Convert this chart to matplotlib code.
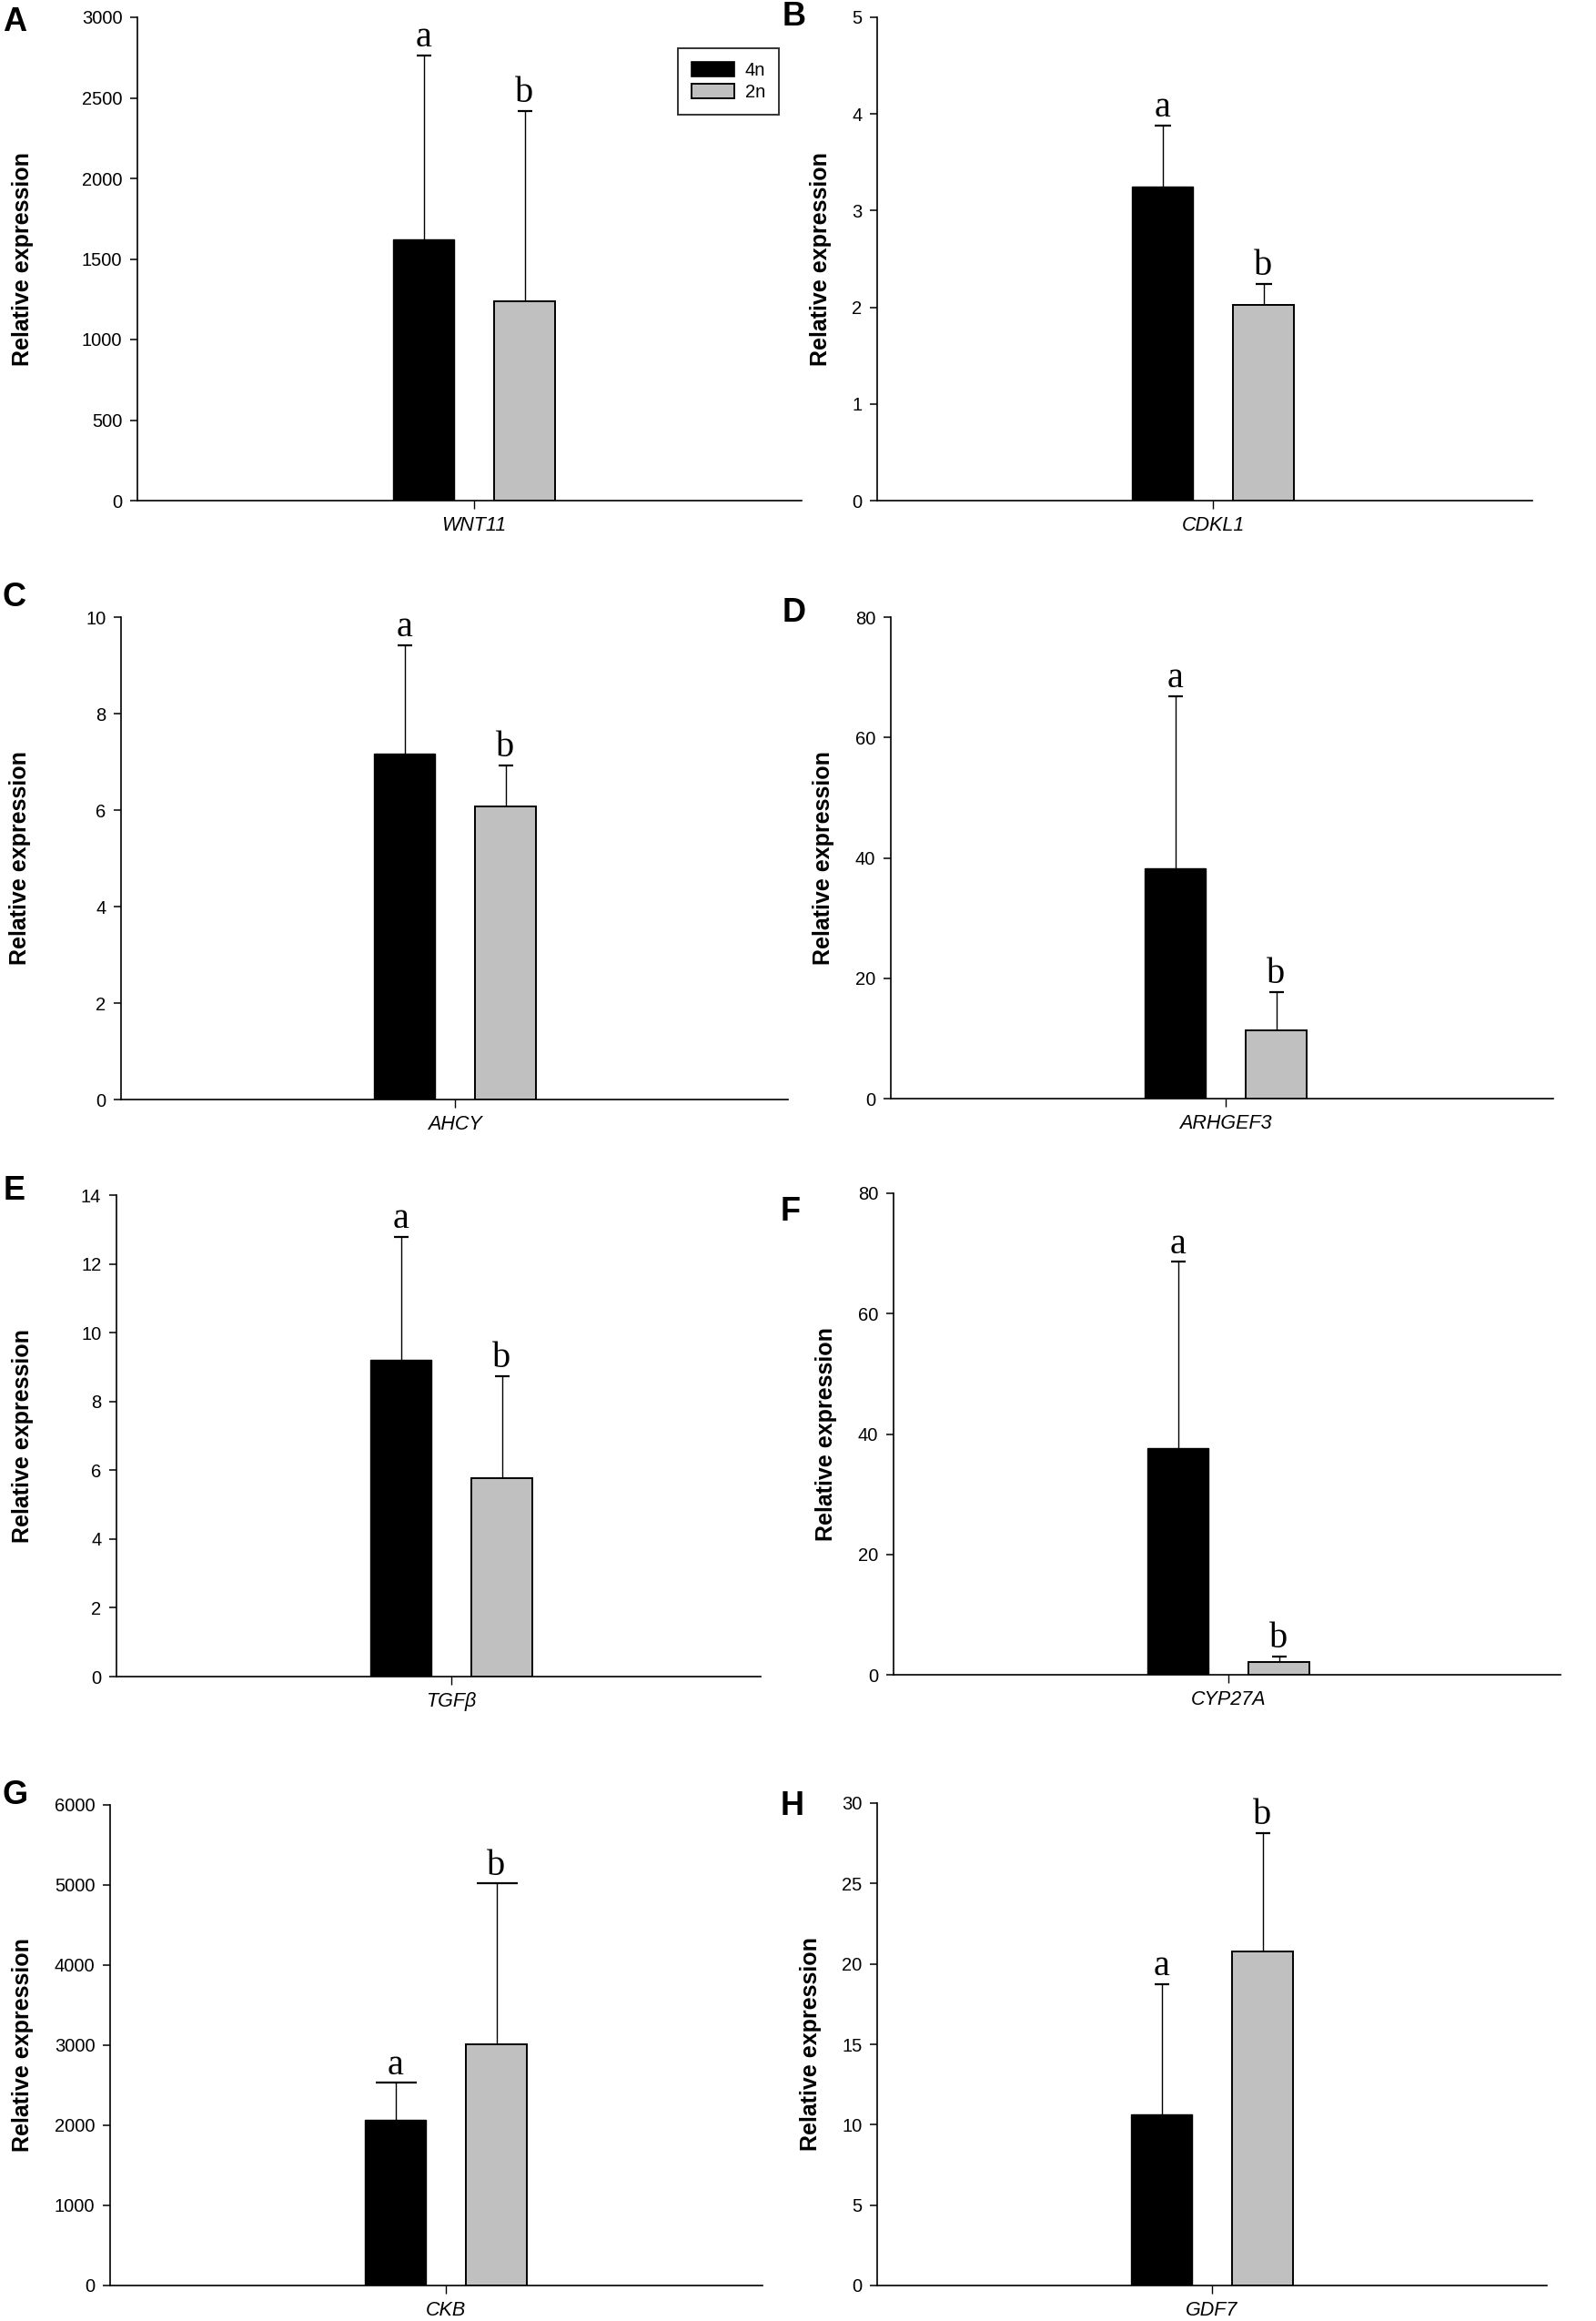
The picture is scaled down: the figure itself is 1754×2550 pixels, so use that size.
import matplotlib
matplotlib.use("Agg")
import matplotlib.pyplot as plt
from matplotlib import font_manager
from matplotlib.patches import Patch

# ---- data ----
panels = ["A", "B", "C", "D", "E", "F", "G", "H"]
genes = ["WNT11", "CDKL1", "AHCY", "ARHGEF3", "TGFβ", "CYP27A", "CKB", "GDF7"]

mean_4n = [1620, 3.25, 7.17, 38.2, 9.22, 37.7, 2067, 10.62]
upper_4n = [2764, 3.88, 9.42, 66.9, 12.78, 68.6, 2530, 18.75]
mean_2n = [1235, 2.02, 6.08, 11.3, 5.78, 2.15, 3011, 20.75]
upper_2n = [2420, 2.24, 6.93, 17.7, 8.74, 3.05, 5020, 28.12]

letter_4n = ["a", "a", "a", "a", "a", "a", "a", "a"]
letter_2n = ["b", "b", "b", "b", "b", "b", "b", "b"]

y_max = [3000, 5, 10, 80, 14, 80, 6000, 30]
y_step = [500, 1, 2, 20, 2, 20, 1000, 5]

groups = ["4n", "2n"]

# ---- layout (pixels on a 1754 x 2550 canvas) ----
W, H = 1754, 2550
# left, right, top, bottom, category tick x
boxes = [
    (151, 881, 19, 550, 521),
    (964, 1684, 19, 550, 1333),
    (133, 866, 678, 1208, 500),
    (979, 1707, 678, 1207, 1347),
    (128, 836, 1313, 1842, 496),
    (982, 1715, 1311, 1840, 1350),
    (121, 838, 1983, 2511, 490),
    (964, 1700, 1981, 2511, 1332),
]
letter_pos = [(3, 14), (860, 8), (3, 646), (860, 663),
              (4, 1298), (858, 1321), (3, 1962), (858, 1974)]
ylabel_x = [25, 902, 22, 905, 25, 908, 25, 891]
cap_sizes = [5.8, 6.5, 5.8, 5.8, 5.8, 5.8, 16.2, 5.8]

PX_PER_UNIT = 185.0
OFFSET = 0.30
BAR_W = 0.362
GRAY = "#c0c0c0"

names = {f.name for f in font_manager.fontManager.ttflist}
SANS = "Liberation Sans" if "Liberation Sans" in names else "DejaVu Sans"
SERIF = "Liberation Serif" if "Liberation Serif" in names else "DejaVu Serif"
if "Liberation Sans Narrow" in names:
    XFONT, XSIZE = "Liberation Sans Narrow", 18
else:
    XFONT, XSIZE = SANS, 15.5

plt.rcParams["font.family"] = [SANS, "DejaVu Sans"]

fig = plt.figure(figsize=(W / 100, H / 100), dpi=100)

for i in range(len(panels)):
    left, right, top, bottom, tick = boxes[i]
    ax = fig.add_axes([left / W, 1 - bottom / H, (right - left) / W, (bottom - top) / H])

    xs = [-OFFSET, OFFSET]
    means = [mean_4n[i], mean_2n[i]]
    uppers = [upper_4n[i], upper_2n[i]]
    ax.bar(xs[0], means[0], width=BAR_W, color="black", edgecolor="black",
           linewidth=1.0, zorder=2)
    ax.bar(xs[1], means[1], width=BAR_W, color=GRAY, edgecolor="black",
           linewidth=1.4, zorder=2)
    for x, m, u in zip(xs, means, uppers):
        eb = ax.errorbar(x, m, yerr=[[0], [u - m]], fmt="none", ecolor="black",
                         elinewidth=1.0, capsize=cap_sizes[i], capthick=1.6, zorder=1)
        # keep only the upper cap
        for cap in eb[1]:
            if abs(cap.get_ydata()[0] - m) < 1e-9:
                cap.set_visible(False)
    for x, u, lab in zip(xs, uppers, [letter_4n[i], letter_2n[i]]):
        ax.annotate(lab, (x, u), xytext=(0, 7), textcoords="offset points",
                    ha="center", va="baseline", fontsize=29, family=SERIF)

    ax.set_xlim((left - tick) / PX_PER_UNIT, (right - tick) / PX_PER_UNIT)
    ax.set_ylim(0, y_max[i])
    ax.set_yticks([k * y_step[i] for k in range(int(round(y_max[i] / y_step[i])) + 1)])
    ax.set_xticks([0])
    ax.set_xticklabels([genes[i]], style="italic", family=XFONT, fontsize=XSIZE)

    for s in ["top", "right"]:
        ax.spines[s].set_visible(False)
    for s in ["left", "bottom"]:
        ax.spines[s].set_linewidth(1.2)
    ax.tick_params(axis="y", direction="out", length=6, width=1.1,
                   labelsize=14.5, pad=6)
    ax.tick_params(axis="x", direction="out", length=6.5, width=1.0, pad=6)

    fig.text(ylabel_x[i] / W, 1 - (top + bottom) / 2 / H, "Relative expression",
             rotation=90, ha="center", va="center", fontsize=18, fontweight="bold")

    lx, ly = letter_pos[i]
    fig.text(lx / W, 1 - (ly - 7) / H, panels[i], ha="left", va="top",
             fontsize=26, fontweight="bold")

    if i == 0:
        handles = [Patch(facecolor="black", edgecolor="black", linewidth=1.2),
                   Patch(facecolor=GRAY, edgecolor="black", linewidth=1.4)]
        leg = ax.legend(handles, groups, loc="upper left",
                        bbox_to_anchor=((745 - left) / (right - left),
                                        (bottom - 53) / (bottom - top)),
                        fontsize=14.5, frameon=True, fancybox=False,
                        handlelength=2.35, handleheight=0.85, handletextpad=0.55,
                        labelspacing=0.25, borderpad=0.75, borderaxespad=0)
        leg.get_frame().set_edgecolor("black")
        leg.get_frame().set_linewidth(1.4)

fig.savefig("out.png", dpi=100, facecolor="white")
